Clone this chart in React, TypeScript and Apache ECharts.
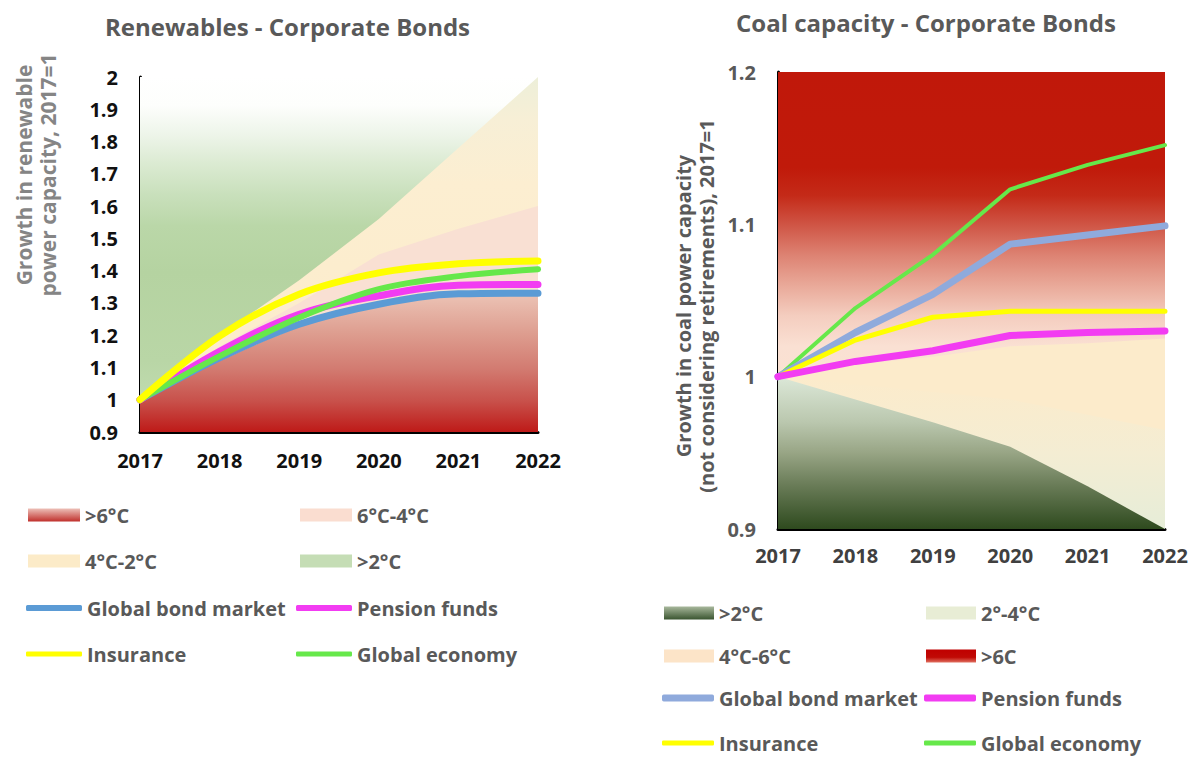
import React, { useEffect, useRef } from "react";
import * as echarts from "echarts";

const years = ["2017", "2018", "2019", "2020", "2021", "2022"];

// Renewables - Corporate Bonds
const renGlobalBond = [1.0, 1.13, 1.234, 1.296, 1.328, 1.33];
const renPension = [1.0, 1.15, 1.265, 1.322, 1.355, 1.357];
const renInsurance = [1.0, 1.197, 1.327, 1.393, 1.421, 1.43];
const renEconomy = [1.0, 1.135, 1.255, 1.343, 1.383, 1.404];
const renAbove6 = [1.0, 1.12, 1.225, 1.297, 1.327, 1.33];
const ren6to4 = [1.0, 1.165, 1.3, 1.45, 1.53, 1.6];
const ren4to2 = [1.0, 1.2, 1.37, 1.56, 1.78, 2.0];
const renBelow2 = [2.0, 2.0, 2.0, 2.0, 2.0, 2.0];

// Coal capacity - Corporate Bonds
const coalGlobalBond = [1.0, 1.029, 1.054, 1.087, 1.093, 1.099];
const coalPension = [1.0, 1.01, 1.017, 1.027, 1.029, 1.03];
const coalInsurance = [1.0, 1.024, 1.039, 1.043, 1.043, 1.043];
const coalEconomy = [1.0, 1.045, 1.08, 1.123, 1.139, 1.152];
const coalBelow2 = [1.0, 0.985, 0.97, 0.954, 0.928, 0.9];
const coal2to4 = [1.0, 0.995, 0.99, 0.985, 0.975, 0.965];
const coal4to6 = [1.0, 1.008, 1.013, 1.02, 1.022, 1.025];
const coalAbove6 = [1.2, 1.2, 1.2, 1.2, 1.2, 1.2];

const FONT = '"Open Sans", Lato, sans-serif';

const lg = (stops: [number, string][]) =>
  new echarts.graphic.LinearGradient(
    0, 0, 0, 1,
    stops.map(([offset, color]) => ({ offset, color }))
  );

export default function App() {
  const ref = useRef<HTMLDivElement>(null);

  useEffect(() => {
    if (!ref.current) return;
    const chart = echarts.init(ref.current, undefined, { renderer: "svg" });

    const area = (
      name: string, data: number[], fill: any, gi: number, smooth: number | boolean = false
    ) => ({
      name, type: "line", data, xAxisIndex: gi, yAxisIndex: gi,
      symbol: "none", smooth, silent: true,
      lineStyle: { width: 0, opacity: 0 },
      itemStyle: { color: "#ccc" },
      areaStyle: { origin: "start", color: fill, opacity: 1 },
    });
    const line = (
      name: string, data: number[], color: string, width: number, gi: number, smooth: number | boolean = false
    ) => ({
      name, type: "line", data, xAxisIndex: gi, yAxisIndex: gi,
      symbol: "none", smooth, silent: true,
      itemStyle: { color },
      lineStyle: { color, width, cap: "round", join: "round" },
    });

    const leg = (name: string, left: number, cy: number, icon: string, color: any, w: number, h: number) => ({
      left, top: cy - 14, padding: 0, itemGap: 0, selectedMode: false,
      itemWidth: w, itemHeight: h,
      textStyle: { fontFamily: FONT, fontWeight: "bold", fontSize: 20, color: "#595959" },
      data: [{ name, icon, itemStyle: { color, borderWidth: 0 }, lineStyle: { color, width: h } }],
    });

    // colours
    const renRedFill = lg([[0, "#ECC4B6"], [0.3, "#DD9C8E"], [0.55, "#D27A70"], [0.78, "#C8504A"], [1, "#BE1A18"]]);
    const renGreenFill = lg([[0, "#FFFFFF"], [0.08, "#FDFEFC"], [0.16, "#EEF5EA"], [0.24, "#DCEBD3"], [0.33, "#C9E0BC"], [0.42, "#BAD7A8"], [0.55, "#B5D3A1"], [0.8, "#B9D6A6"], [1, "#C6DFB6"]]);
    const renYellowFill = lg([[0, "#EDEFD9"], [0.12, "#F7EFD6"], [0.3, "#FCEED1"], [1, "#FCEBC8"]]);
    const coalRedFill = lg([[0, "#C0180A"], [0.21, "#C01A0A"], [0.27, "#C42A18"], [0.333, "#CF5444"], [0.4, "#DD8272"], [0.467, "#E9A999"], [0.533, "#F4CDBF"], [0.6, "#FAE0D3"], [1, "#FCEBCB"]]);
    const coal2to4Fill = lg([[0, "#FCEBCB"], [0.5, "#F4EDD3"], [1, "#E6EDD8"]]);
    const coalGreenFill = lg([[0, "#DCE8D8"], [0.3, "#BAC7AE"], [0.5, "#98A585"], [0.7, "#6C7E5A"], [1, "#2E4A1E"]]);

    const axisLine = { show: true, lineStyle: { color: "#000", width: 3 } };
    const tickFont = { fontFamily: FONT, fontWeight: "bold", fontSize: 20 };

    chart.setOption({
      animation: false,
      title: [
        { text: "Renewables - Corporate Bonds", left: 100, top: 9, textStyle: { fontFamily: FONT, fontWeight: "bold", fontSize: 24, color: "#595959" } },
        { text: "Coal capacity - Corporate Bonds", left: 731, top: 5, textStyle: { fontFamily: FONT, fontWeight: "bold", fontSize: 24, color: "#595959" } },
      ],
      grid: [
        { left: 140, top: 77, width: 398, height: 355 },
        { left: 778, top: 72, width: 387, height: 457 },
      ],
      xAxis: [
        {
          type: "category", gridIndex: 0, data: years, boundaryGap: false,
          axisLine, axisTick: { show: false },
          axisLabel: { margin: 18, ...tickFont, color: "#111" },
        },
        {
          type: "category", gridIndex: 1, data: years, boundaryGap: false,
          axisLine, axisTick: { show: false },
          axisLabel: { margin: 16, ...tickFont, color: "#404040" },
        },
      ],
      yAxis: [
        {
          type: "value", gridIndex: 0, min: 0.9, max: 2, interval: 0.1,
          axisLine, axisTick: { show: false }, splitLine: { show: false },
          axisLabel: { margin: 22, ...tickFont, color: "#111" },
        },
        {
          type: "value", gridIndex: 1, min: 0.9, max: 1.2, interval: 0.1,
          axisLine, axisTick: { show: false }, splitLine: { show: false },
          axisLabel: { margin: 22, ...tickFont, color: "#595959" },
        },
      ],
      legend: [
        leg(">6°C", 28, 519, "rect", lg([[0, "#EDC0B8"], [1, "#C0302C"]]), 52, 13),
        leg("6°C-4°C", 300, 519, "rect", "#FADDD0", 52, 13),
        leg("4°C-2°C", 28, 565, "rect", "#FCEBC8", 52, 13),
        leg(">2°C", 300, 565, "rect", "#C5DDB5", 52, 13),
        leg("Global bond market", 26, 612, "roundRect", "#5B9BD5", 56, 6),
        leg("Pension funds", 296, 612, "roundRect", "#F23CF2", 56, 6),
        leg("Insurance", 26, 658, "roundRect", "#FFFF00", 56, 5),
        leg("Global economy", 296, 658, "roundRect", "#66E84A", 56, 5),

        leg(">2°C", 664, 617, "rect", lg([[0, "#A8B89C"], [1, "#3A5530"]]), 50, 13),
        leg("2°-4°C", 926, 617, "rect", "#E8EDD5", 50, 13),
        leg("4°C-6°C", 664, 660, "rect", "#FCE4C8", 50, 13),
        leg(">6C", 926, 660, "rect", lg([[0, "#C00000"], [0.6, "#C00A05"], [1, "#E07060"]]), 50, 13),
        leg("Global bond market", 662, 702, "roundRect", "#8FAADC", 52, 7),
        leg("Pension funds", 924, 702, "roundRect", "#F23CF2", 52, 7),
        leg("Insurance", 662, 747, "roundRect", "#FFFF00", 52, 5),
        leg("Global economy", 924, 747, "roundRect", "#66E84A", 52, 5),
      ],
      graphic: [
        {
          type: "text", x: 36, y: 175, rotation: Math.PI / 2,
          style: {
            text: "Growth in renewable\npower capacity, 2017=1",
            align: "center", verticalAlign: "middle", lineHeight: 24,
            font: `bold 21px ${FONT}`, fill: "#858585",
          },
        },
        {
          type: "text", x: 695, y: 306, rotation: Math.PI / 2,
          style: {
            text: "Growth in coal power capacity\n(not considering retirements), 2017=1",
            align: "center", verticalAlign: "middle", lineHeight: 23,
            font: `bold 20px ${FONT}`, fill: "#595959",
          },
        },
      ],
      series: [
        area(">2°C", renBelow2, renGreenFill, 0),
        area("4°C-2°C", ren4to2, renYellowFill, 0),
        area("6°C-4°C", ren6to4, "#F9E0D3", 0),
        area(">6°C", renAbove6, renRedFill, 0, 0.35),
        line("Global bond market", renGlobalBond, "#5B9BD5", 7, 0, 0.35),
        line("Pension funds", renPension, "#F23CF2", 7, 0, 0.35),
        line("Global economy", renEconomy, "#66E84A", 6, 0, 0.35),
        line("Insurance", renInsurance, "#FFFF00", 7, 0, 0.35),

        area(">6C", coalAbove6, coalRedFill, 1),
        area("4°C-6°C", coal4to6, "#FCEBCB", 1),
        area("2°-4°C", coal2to4, coal2to4Fill, 1),
        area(">2°C", coalBelow2, coalGreenFill, 1),
        line("Global economy", coalEconomy, "#66E84A", 4, 1),
        line("Global bond market", coalGlobalBond, "#8FAADC", 7, 1),
        line("Insurance", coalInsurance, "#FFFF00", 5, 1),
        line("Pension funds", coalPension, "#F23CF2", 7, 1),
      ],
    });

    return () => chart.dispose();
  }, []);

  return (
    <div
      ref={ref}
      style={{ position: "fixed", left: 0, top: 0, width: 1194, height: 762, background: "#fff" }}
    />
  );
}
